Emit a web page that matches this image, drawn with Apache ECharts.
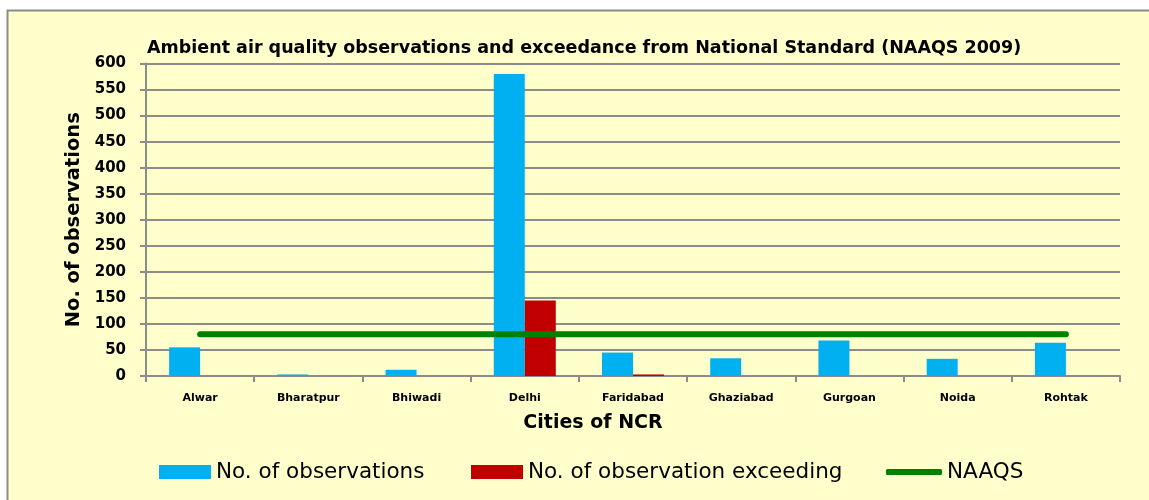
<!DOCTYPE html>
<html><head><meta charset="utf-8">
<script src="https://cdn.jsdelivr.net/npm/echarts@6/dist/echarts.min.js"></script>
<style>html,body{margin:0;padding:0;background:#fff;}#c{width:1149px;height:500px;}</style>
</head><body><div id="c"></div>
<script>
const cities = ['Alwar','Bharatpur','Bhiwadi','Delhi','Faridabad','Ghaziabad','Gurgoan','Noida','Rohtak'];
const observations = [55, 3, 12, 580, 45, 34, 68, 33, 64];
const exceeding = [0, 0, 0, 145, 3, 0, 0, 0, 0];
const naaqs = [80, 80, 80, 80, 80, 80, 80, 80, 80];
const yTicks = {min: 0, max: 600, interval: 50};

const F = '"DejaVu Sans", "Liberation Sans", sans-serif';
const chart = echarts.init(document.getElementById('c'), null, {renderer: 'canvas'});
const legText = {fontFamily: F, fontSize: 21.5, color: '#000'};
chart.setOption({
  animation: false,
  backgroundColor: '#ffffff',
  graphic: [{
    type: 'rect', z: -10, silent: true,
    shape: {x: 7.5, y: 10.5, width: 1160, height: 520},
    style: {fill: '#FFFFCC', stroke: '#8c8c8c', lineWidth: 2}
  }],
  title: {
    text: 'Ambient air quality observations and exceedance from National Standard (NAAQS 2009)',
    left: 142, top: 34,
    textStyle: {fontFamily: F, fontWeight: 'bold', fontSize: 17.5, color: '#000'}
  },
  legend: [
    {data: [{name: 'No. of observations', icon: 'rect'}], left: 154, top: 456, itemWidth: 52, itemHeight: 14,
     itemGap: 4, textStyle: legText},
    {data: [{name: 'No. of observation exceeding', icon: 'rect'}], left: 466, top: 456, itemWidth: 52, itemHeight: 14,
     textStyle: legText},
    {data: [{name: 'NAAQS', icon: 'roundRect', itemStyle: {color: '#008000'}}], left: 881, top: 456, itemWidth: 56, itemHeight: 6,
     textStyle: legText}
  ],
  grid: {left: 146, right: 29, top: 63.5, bottom: 124, containLabel: false},
  xAxis: {
    type: 'category', data: cities,
    name: 'Cities of NCR', nameLocation: 'middle', nameGap: 38,
    nameTextStyle: {fontFamily: F, fontWeight: 'bold', fontSize: 19, color: '#000', padding: [0, 80, 0, 0]},
    axisLine: {lineStyle: {color: '#8c8c8c', width: 2}},
    axisTick: {show: true, length: 6, lineStyle: {color: '#8c8c8c', width: 2}},
    axisLabel: {fontFamily: F, fontWeight: 'bold', fontSize: 11, color: '#000', margin: 17}
  },
  yAxis: {
    type: 'value', min: yTicks.min, max: yTicks.max, interval: yTicks.interval,
    name: 'No. of observations', nameLocation: 'middle', nameGap: 62, nameRotate: 90,
    nameTextStyle: {fontFamily: F, fontWeight: 'bold', fontSize: 19.5, color: '#000'},
    axisLine: {show: true, lineStyle: {color: '#8c8c8c', width: 2}},
    axisTick: {show: true, length: 6, lineStyle: {color: '#8c8c8c', width: 2}},
    axisLabel: {fontFamily: F, fontWeight: 'bold', fontSize: 15, color: '#000', margin: 20},
    splitLine: {lineStyle: {color: '#8c8c8c', width: 2}}
  },
  series: [
    {name: 'No. of observations', type: 'bar', data: observations, barWidth: 31, barGap: '0%',
     itemStyle: {color: '#00B0F0'}},
    {name: 'No. of observation exceeding', type: 'bar', data: exceeding, barWidth: 31,
     itemStyle: {color: '#C00000'}},
    {name: 'NAAQS', type: 'line', data: naaqs, symbol: 'none', z: 5,
     itemStyle: {color: '#008000'},
     lineStyle: {color: '#008000', width: 6, cap: 'round'}}
  ]
});
</script></body></html>
